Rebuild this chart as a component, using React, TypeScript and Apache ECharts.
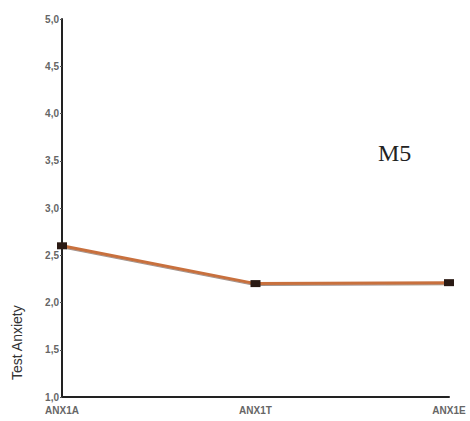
import React, { useEffect, useRef } from "react";
import * as echarts from "echarts";

const categories = ["ANX1A", "ANX1T", "ANX1E"];
const values = [2.6, 2.2, 2.21];
const yTicks = ["1,0", "1,5", "2,0", "2,5", "3,0", "3,5", "4,0", "4,5", "5,0"];

export default function App() {
  const ref = useRef<HTMLDivElement>(null);
  useEffect(() => {
    const chart = echarts.init(ref.current!, null, { renderer: "svg" });
    chart.setOption({
      animation: false,
      backgroundColor: "#ffffff",
      grid: { left: 62, right: 21, top: 19, bottom: 24 },
      xAxis: {
        type: "category",
        data: categories,
        boundaryGap: false,
        axisLine: { lineStyle: { color: "#222", width: 2 } },
        axisTick: { show: false },
        axisLabel: { color: "#666", fontSize: 10, fontWeight: "bold", fontFamily: "Liberation Sans, Arial", margin: 8 },
        splitLine: { show: false },
      },
      yAxis: {
        type: "value",
        min: 1,
        max: 5,
        interval: 0.5,
        axisLine: { show: true, lineStyle: { color: "#222", width: 2 } },
        axisTick: { show: true, length: 2, lineStyle: { color: "#555" } },
        axisLabel: {
          color: "#666",
          fontSize: 10,
          fontWeight: "bold",
          fontFamily: "Liberation Sans, Arial",
          margin: 3,
          formatter: (v: number) => yTicks[Math.round((v - 1) / 0.5)],
        },
        splitLine: { show: false },
      },
      series: [
        {
          type: "line",
          data: values,
          symbol: "rect",
          symbolSize: [10, 7],
          itemStyle: { color: "#2a1a14" },
          lineStyle: { color: "#c8703e", width: 3, shadowColor: "rgba(60,30,10,0.5)", shadowBlur: 1, shadowOffsetY: 1 },
        },
      ],
      graphic: [
        {
          type: "text",
          rotation: Math.PI / 2,
          style: { text: "Test Anxiety", fill: "#333", font: "14px Liberation Sans, Arial" },
          x: 10,
          y: 380,
        },
        {
          type: "text",
          x: 378,
          y: 141,
          style: { text: "M5", fill: "#222", font: "24px Liberation Serif, serif" },
        },
      ],
    });
    return () => chart.dispose();
  }, []);
  return <div ref={ref} style={{ width: 470, height: 421, position: "absolute", left: 0, top: 0 }} />;
}
